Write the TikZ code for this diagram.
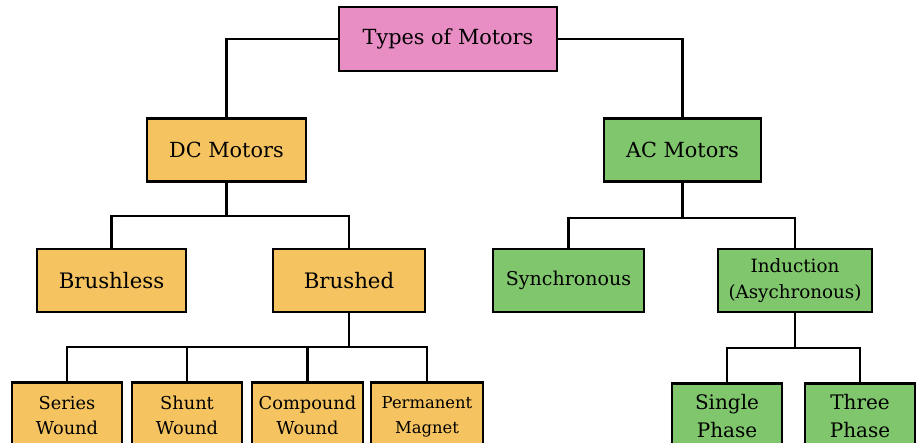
\documentclass[tikz,border=0pt]{standalone}
\usepackage{fontspec}
\setmainfont{DejaVu Serif}
\definecolor{rootpink}{RGB}{232,142,196}
\definecolor{dcorange}{RGB}{245,196,96}
\definecolor{acgreen}{RGB}{128,198,108}
\begin{document}
\begin{tikzpicture}[x=1pt,y=-1pt,
  box/.style={draw=black, line width=2.7pt, rectangle, inner sep=0pt, align=center},
  wire/.style={draw=black, line width=2.6pt},
  rootbox/.style={box, fill=rootpink, minimum width=218pt, minimum height=64pt, font=\fontsize{20.8}{24}\selectfont},
  dcbox/.style={box, fill=dcorange},
  acbox/.style={box, fill=acgreen},
  midbox/.style={minimum height=63pt, font=\fontsize{21.3}{24}\selectfont},
  leafbox/.style={anchor=north, inner ysep=14pt, font=\fontsize{17.8}{25}\selectfont},
  gleafbox/.style={anchor=north, inner ysep=10.5pt, font=\fontsize{20}{28}\selectfont}]
\useasboundingbox (0,0) rectangle (916,443);
\fill[white] (0,0) rectangle (916,443);
\clip (0,0) rectangle (916,443);

% root
\node[rootbox] (root) at (448,39) {Types of Motors};

% first level
\node[dcbox, midbox, minimum width=159pt, font=\fontsize{20.8}{24}\selectfont] (dc) at (226.5,150) {DC Motors};
\node[acbox, midbox, minimum width=157pt, font=\fontsize{20.8}{24}\selectfont] (ac) at (682.5,150) {AC Motors};

% DC branch
\node[dcbox, midbox, minimum width=149pt] (brushless) at (111.5,280.5) {Brushless};
\node[dcbox, midbox, minimum width=152pt] (brushed) at (349,280.5) {Brushed};

% AC branch
\node[acbox, minimum width=151pt, minimum height=63pt, font=\fontsize{19}{22}\selectfont] (sync) at (568.5,280.5) {Synchronous};
\node[acbox, minimum width=154pt, minimum height=63pt, font=\fontsize{18.3}{26}\selectfont] (induct) at (795,280.5) {Induction\\(Asychronous)};

% brushed motor types
\node[dcbox, leafbox, minimum width=110pt] (series) at (67,381) {Series\\Wound\\[6pt]};
\node[dcbox, leafbox, minimum width=110pt] (shunt) at (187,381) {Shunt\\Wound\\[6pt]};
\node[dcbox, leafbox, minimum width=111pt] (compound) at (307.5,381) {Compound\\Wound\\[6pt]};
\node[dcbox, leafbox, minimum width=112pt, font=\fontsize{16.4}{25}\selectfont] (permanent) at (427,381) {Permanent\\Magnet\\[6pt]};

% induction motor types
\node[acbox, gleafbox, minimum width=110pt] (single) at (727,382) {Single\\Phase\\[6pt]};
\node[acbox, gleafbox, minimum width=110pt] (three) at (860,382) {Three\\Phase\\[6pt]};

% junction points
\coordinate (jdc) at (226.5,216);
\coordinate (jac) at (682.5,218);
\coordinate (jbr) at (349,347);
\coordinate (jin) at (795,348);

% connectors
\draw[wire] (root.west) -| (dc.north);
\draw[wire] (root.east) -| (ac.north);

\draw[wire] (dc.south) -- (jdc);
\draw[wire] (brushless.north) |- (jdc) -| (brushed.north);

\draw[wire] (ac.south) -- (jac);
\draw[wire] (sync.north) |- (jac) -| (induct.north);

\draw[wire] (brushed.south) -- (jbr);
\draw[wire] (series.north) |- (jbr) -| (permanent.north);
\draw[wire] (shunt.north) -- (shunt.north |- jbr);
\draw[wire] (compound.north) -- (compound.north |- jbr);

\draw[wire] (induct.south) -- (jin);
\draw[wire] (single.north) |- (jin) -| (three.north);
\end{tikzpicture}
\end{document}
